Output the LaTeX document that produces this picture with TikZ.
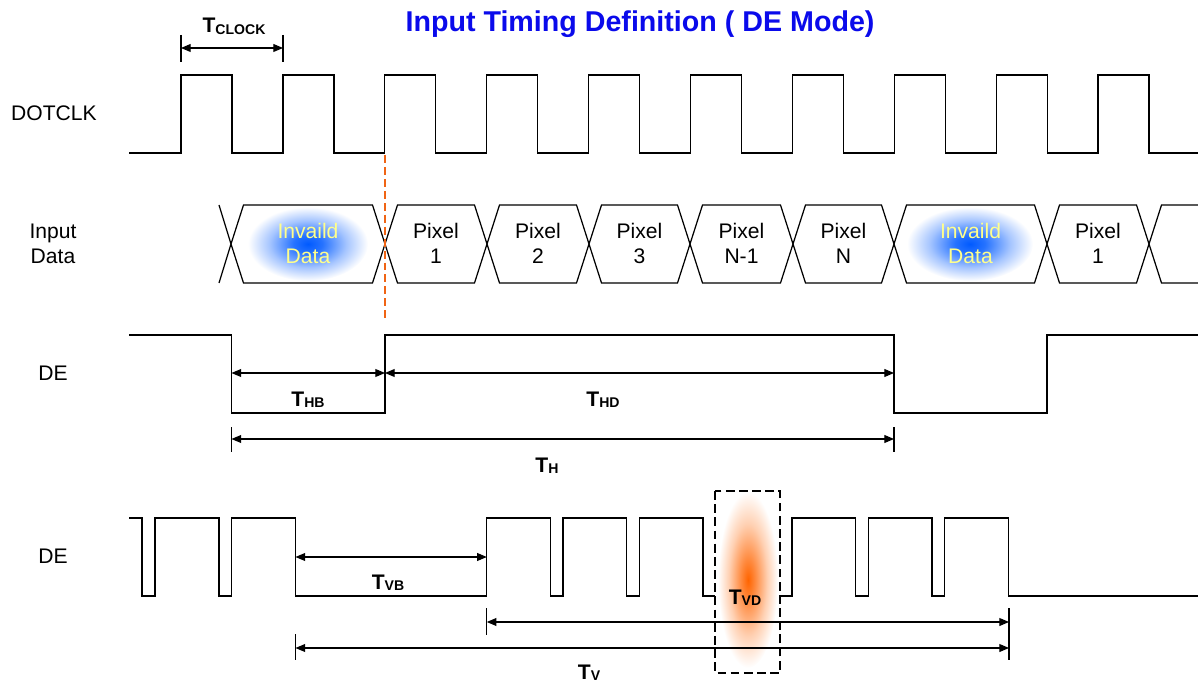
\documentclass[tikz,border=0pt]{standalone}
\usepackage{fontspec}
\setmainfont{Liberation Sans}
\usetikzlibrary{arrows.meta}

\definecolor{titleblue}{RGB}{10,10,235}
\definecolor{cutorange}{RGB}{240,100,20}
\definecolor{glowblue}{RGB}{0,90,255}
\definecolor{gloworange}{RGB}{255,100,0}
\definecolor{paleyellow}{RGB}{255,255,140}

\pgfdeclareradialshading{blueglow}{\pgfpoint{0bp}{0bp}}{color(0bp)=(glowblue); color(6bp)=(glowblue!85!white); color(16bp)=(glowblue!35!white); color(25bp)=(white); color(50bp)=(white)}
\pgfdeclareradialshading{orangeglow}{\pgfpoint{0bp}{0bp}}{color(0bp)=(gloworange); color(6bp)=(gloworange!75!white); color(16bp)=(gloworange!30!white); color(25bp)=(white); color(50bp)=(white)}

\newcommand{\Tsub}[1]{T{\fontsize{8}{9}\selectfont\raisebox{-0.8pt}{#1}}}

\begin{document}
\begin{tikzpicture}[x=0.2mm,y=-0.2mm,
	sig/.style={line width=0.7pt},
	tick/.style={line width=0.6pt},
	dim/.style={line width=0.6pt,{Triangle[length=5.5pt,width=4.5pt]}-{Triangle[length=5.5pt,width=4.5pt]}},
	lbl/.style={font=\fontsize{12}{14.2}\selectfont,align=center},
	tlbl/.style={font=\bfseries\fontsize{12}{14}\selectfont,anchor=base,inner sep=0pt}]
	\useasboundingbox (0,0) rectangle (1198,681);
	\node[text=titleblue,font=\bfseries\fontsize{16.3}{19}\selectfont,anchor=base] (title) at (640,32) {Input Timing Definition ( DE Mode)};

	\node[lbl,anchor=base] (clk) at (54,121) {DOTCLK};
	\node[lbl] (din) at (53,243.5) {Input\\Data};
	\node[lbl,anchor=base] (de1) at (53,381) {DE};
	\node[lbl,anchor=base] (de2) at (53,563) {DE};

	\draw[sig] (129,153) -- (181,153) \foreach \k in {0,...,9}{ -- ++(0,-78) -- ++(51,0) -- ++(0,78) -- ++(50.9,0)};
	\coordinate (ck1) at (181,48);
	\coordinate (ck2) at (283,48);
	\draw[tick] (181,35) -- (181,62) (283,35) -- (283,62);
	\draw[dim] (ck1) -- (ck2);
	\node[tlbl] (tclk) at (234,33) {\Tsub{CLOCK}};

	\shade[shading=blueglow] (308,244) ellipse [x radius=60,y radius=37];
	\shade[shading=blueglow] (970,244) ellipse [x radius=63,y radius=37];
	\foreach \a/\b in {231/385,385/487,487/589,589/690,690/793,793/894,894/1047,1047/1149}
		\draw[sig] (\a,244) -- ({\a+12.5},205) -- ({\b-12.5},205) -- (\b,244) -- ({\b-12.5},283) -- ({\a+12.5},283) -- cycle;
	\draw[sig] (219,205) -- (231,244) -- (219,283);
	\draw[sig] (1198,205) -- (1161.5,205) -- (1149,244) -- (1161.5,283) -- (1198,283);
	\node[lbl,text=paleyellow] (inv1) at (308,243.5) {Invaild\\Data};
	\node[lbl] (px1) at (436,243.5) {Pixel\\1};
	\node[lbl] (px2) at (538,243.5) {Pixel\\2};
	\node[lbl] (px3) at (639.5,243.5) {Pixel\\3};
	\node[lbl] (pxm) at (741.5,243.5) {Pixel\\N-1};
	\node[lbl] (pxn) at (843.5,243.5) {Pixel\\N};
	\node[lbl,text=paleyellow] (inv2) at (970.5,243.5) {Invaild\\Data};
	\node[lbl] (pxa) at (1098,243.5) {Pixel\\1};
	\draw[cutorange,line width=1.3pt,dash pattern=on 4.5pt off 2.3pt] (385,155) -- (385,320);

	\draw[sig] (129,335) -- (231.5,335) -- (231.5,413) -- (385,413) -- (385,335) -- (894,335) -- (894,413) -- (1047,413) -- (1047,335) -- (1198,335);
	\coordinate (hb1) at (231.5,373);
	\coordinate (hb2) at (385,373);
	\coordinate (hd2) at (894,373);
	\draw[dim] (hb1) -- (hb2);
	\draw[dim] (hb2) -- (hd2);
	\node[tlbl] (thb) at (308,406) {\Tsub{HB}};
	\node[tlbl] (thd) at (603,406) {\Tsub{HD}};
	\coordinate (h1) at (231.5,439);
	\coordinate (h2) at (894,439);
	\draw[tick] (231.5,427) -- (231.5,452) (894,427) -- (894,452);
	\draw[dim] (h1) -- (h2);
	\node[tlbl] (th) at (547,472) {\Tsub{H}};

	\draw[sig] (129,518) -- (142,518) -- (142,596) -- (155,596) -- (155,518) -- (219,518) -- (219,596) -- (231.5,596) -- (231.5,518) -- (295.5,518) -- (295.5,596) -- (486.8,596) \foreach \k in {0,...,6}{ -- ++(0,-78) -- ++(63.6,0) -- ++(0,78) -- ++(12.7,0)} -- (1198,596);
	\fill[white] (715,505) rectangle (780,610);
	\shade[shading=orangeglow] (748,580) ellipse [x radius=30,y radius=88];
	\coordinate (vb1) at (295.5,557);
	\coordinate (vb2) at (486.8,557);
	\coordinate (vd1) at (486.8,622);
	\coordinate (vd2) at (1009,622);
	\coordinate (v1) at (295.5,648);
	\coordinate (v2) at (1009,648);
	\draw[tick] (486.8,608) -- (486.8,635) (295.5,634) -- (295.5,660) (1009,608) -- (1009,660);
	\draw[dim] (vb1) -- (vb2);
	\draw[dim] (vd1) -- (vd2);
	\draw[dim] (v1) -- (v2);
	\draw[line width=1.5pt,dash pattern=on 5pt off 2.5pt] (715,491) rectangle (780,673);
	\node[tlbl] (tvb) at (388,589) {\Tsub{VB}};
	\node[tlbl] (tvd) at (745,604) {\Tsub{VD}};
	\node[tlbl] (tv) at (589,679) {\Tsub{V}};
\end{tikzpicture}
\end{document}
